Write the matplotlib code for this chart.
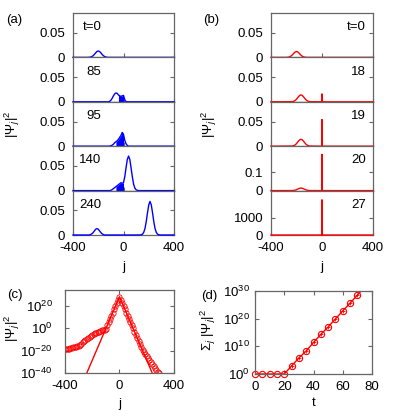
import numpy as np
import matplotlib
matplotlib.use("Agg")
import matplotlib.pyplot as plt
from matplotlib.ticker import FixedLocator, NullLocator

plt.rcParams['font.family'] = ['Liberation Sans', 'DejaVu Sans']
plt.rcParams['mathtext.fontset'] = 'custom'
plt.rcParams['mathtext.rm'] = 'Liberation Sans'
plt.rcParams['mathtext.it'] = 'Liberation Sans:italic'
plt.rcParams['mathtext.sf'] = 'Liberation Sans'
plt.rcParams['axes.unicode_minus'] = False
plt.rcParams['font.size'] = 9.5

# ---- panel (a): |psi_j|^2 snapshots (blue) ----
a_times = ["t=0", "85", "95", "140", "240"]
a_j = [
    [-400, -280, -270, -260, -250, -240, -230, -220, -210, -200, -190, -180, -170, -160, -150, -140, -130, -120, 400],
    [-400, -120, -110, -100, -90, -80, -70, -60, -50, -40, -30, -20, -10, 0, 10, 20, 30, 400],
    [-400, -110, -100, -90, -80, -70, -60, -50, -40, -30, -20, -10, 0, 10, 20, 30, 40, 400],
    [-400, -110, -100, -90, -80, -70, -60, -50, -40, -30, -20, -10, 0, 10, 20, 30, 40, 50, 60, 70, 80, 90, 100, 110, 120, 400],
    [-400, -270, -260, -250, -240, -230, -220, -210, -200, -190, -180, -170, -160, -150,
     130, 140, 150, 160, 170, 180, 190, 200, 210, 220, 230, 240, 250, 260, 270, 280, 290, 400],
]
a_psi = [
    [0, 0, 0.0003, 0.0007, 0.0018, 0.0036, 0.0063, 0.0094, 0.012, 0.013, 0.012, 0.0094, 0.0063, 0.0036, 0.0018, 0.0007, 0.0003, 0, 0],
    [0, 0, 0.001, 0.003, 0.007, 0.012, 0.016, 0.018, 0.017, 0.014, 0.012, 0.011, 0.012, 0.013, 0.004, 0.0005, 0, 0],
    [0, 0, 0.001, 0.002, 0.004, 0.007, 0.009, 0.011, 0.014, 0.018, 0.022, 0.028, 0.024, 0.012, 0.005, 0.0015, 0, 0],
    [0, 0, 0.0005, 0.002, 0.004, 0.006, 0.008, 0.01, 0.012, 0.014, 0.016, 0.015, 0.016, 0.028, 0.046, 0.063, 0.07,
     0.063, 0.046, 0.028, 0.013, 0.005, 0.0017, 0.0005, 0, 0],
    [0, 0, 0.001, 0.0025, 0.005, 0.0085, 0.0118, 0.013, 0.0118, 0.0085, 0.005, 0.0025, 0.001, 0,
     0, 0.0005, 0.0016, 0.0052, 0.013, 0.027, 0.045, 0.061, 0.068, 0.061, 0.045, 0.027, 0.013, 0.0052, 0.0016, 0.0005, 0, 0],
]
# j-range of the rapidly oscillating (filled) part
a_fill = [None, (-40, 0), (-60, 0), (-60, 0), None]

# ---- panel (b): |psi_j|^2 snapshots (red) ----
b_times = ["t=0", "18", "19", "20", "27"]
bump_j = [-235, -225, -215, -205, -195, -185, -175, -165, -155, -145, -135, -125, -115, -105, -95]
bump_v = [0.0003, 0.0008, 0.0019, 0.0039, 0.0068, 0.0102, 0.0129, 0.014, 0.0129, 0.0102, 0.0068, 0.0039, 0.0019, 0.0008, 0.0003]
b_j = [
    [-400, -280, -270, -260, -250, -240, -230, -220, -210, -200, -190, -180, -170, -160, -150, -140, -130, -120, 400],
    [-400] + bump_j + [-1, 0, 1, 400],
    [-400] + bump_j + [-1, 0, 1, 400],
    [-400] + bump_j + [-1, 0, 1, 400],
    [-400, -1, 0, 1, 400],
]
b_psi = [
    [0, 0, 0.0003, 0.0007, 0.0017, 0.0033, 0.0058, 0.0087, 0.011, 0.012, 0.011, 0.0087, 0.0058, 0.0033, 0.0017, 0.0007, 0.0003, 0, 0],
    [0] + bump_v + [0, 0.016, 0, 0],
    [0] + bump_v + [0, 0.054, 0, 0],
    [0] + bump_v + [0, 0.2, 0, 0],
    [0, 0, 2060, 0, 0],
]
b_ylim = [0.09, 0.09, 0.09, 0.245, 2600]
b_ytick = [0.05, 0.05, 0.05, 0.1, 1000]
b_yticklabel = ["0.05", "0.05", "0.05", "0.1", "1000"]

# ---- panel (c): log profile ----
c_line_j = [-300, 0, 300]
c_line_log = [-57, 28, -57]
c_j = list(range(-400, 300, 10))
c_log = [-19, -18.8, -18.5, -18.2, -17.8, -17.4, -17, -16.7, -16.4, -16.2, -16,
         -15.2, -14, -12.8, -11.5, -10.4, -9.5, -8.5, -7.5, -6.7, -6, -5.2, -4.5, -4, -3.5, -3,
         -2.5, -2.1, -1.8, -1.4, -0.5, 2.5, 5.4, 8.2, 11, 13.9, 16.7, 19.5, 22.3, 25.2, 28,
         25.2, 22.3, 19.5, 16.7, 13.9, 11, 8.2, 5.4, 2.5, -0.3, -3.1, -6, -8.8, -11.6, -14.5,
         -17.2, -19.2, -21, -23, -25, -27, -28.8, -30.6, -32.3, -34, -35.6, -37.2, -38.8, -40.3]

# ---- panel (d): total norm vs t ----
d_t = [0, 5, 10, 15, 20, 25, 30, 35, 40, 45, 50, 55, 60, 65, 70]
d_log = [0, 0, 0, 0, 0, 2.9, 5.8, 8.3, 11.4, 14.3, 17.0, 19.9, 22.8, 25.6, 28.5]
d_line_t = d_t + [76]
d_line_log = d_log + [32]

W, H = 397, 416
fig = plt.figure(figsize=(W / 100, H / 100), dpi=100)
frame_col = '#666666'


def style(ax, top=False, ypad=5.5):
    for s in ax.spines.values():
        s.set_color(frame_col)
        s.set_linewidth(0.9)
    ax.tick_params(direction='in', length=3, width=0.8, color=frame_col,
                   top=top, right=True, labelsize=9.5)
    ax.tick_params(axis='x', pad=5)
    ax.tick_params(axis='y', pad=ypad)


def stack(x0, x1, times, js, psis, color, ylims, yticks, ylabels, fills, label_x, label_ha):
    top, bot = 13, 235
    h = (bot - top) / 5
    axes = []
    for i in range(5):
        y_top = top + i * h
        ax = fig.add_axes([x0 / W, 1 - (y_top + h) / H, (x1 - x0) / W, h / H])
        j = np.array(js[i], dtype=float)
        v = np.array(psis[i], dtype=float)
        ax.plot(j, v, color=color, lw=1.0, clip_on=False, zorder=3)
        if fills[i] is not None:
            lo, hi = fills[i]
            m = (j >= lo) & (j <= hi)
            ax.fill_between(j[m], 0, v[m], color=color, lw=0, zorder=3)
        ax.set_xlim(-400, 400)
        ax.set_ylim(0, ylims[i])
        ax.set_xticks([-400, 0, 400])
        ax.set_yticks([0, yticks[i]])
        ax.set_yticklabels(["0", ylabels[i]])
        style(ax)
        if i in (1, 3):
            ax.spines['bottom'].set_color('black')
        if i < 4:
            ax.set_xticklabels([])
        ax.text(label_x, 0.68, times[i], transform=ax.transAxes, ha=label_ha, va='center', fontsize=9.5)
        axes.append(ax)
    axes[-1].set_xlabel("j", labelpad=5)
    return axes


stack(73, 174, a_times, a_j, a_psi, 'blue', [0.09] * 5, [0.05] * 5, ["0.05"] * 5,
      a_fill, 0.28, 'right')
stack(271, 373, b_times, b_j, b_psi, 'red', b_ylim, b_ytick, b_yticklabel,
      [None] * 5, 0.93, 'right')

fig.text(12 / W, 1 - 124 / H, r'$|\Psi_j|^2$', rotation=90, ha='center', va='center', fontsize=9.5)
fig.text(209 / W, 1 - 124 / H, r'$|\Psi_j|^2$', rotation=90, ha='center', va='center', fontsize=9.5)
fig.text(6 / W, 1 - 20 / H, "(a)", ha='left', va='center', fontsize=9.5)
fig.text(203 / W, 1 - 20 / H, "(b)", ha='left', va='center', fontsize=9.5)

# panel (c)
axc = fig.add_axes([65 / W, 1 - 373 / H, (174 - 65) / W, (373 - 290) / H])
axc.plot(c_line_j, 10.0 ** np.array(c_line_log), color='red', lw=1.0)
axc.plot(c_j, 10.0 ** np.array(c_log), ls='none', marker='o', ms=3.8, mfc='none',
         mec='red', mew=0.6)
axc.set_yscale('log')
axc.set_xlim(-400, 400)
axc.set_ylim(1e-40, 1e34)
axc.set_xticks([-400, 0, 400])
axc.yaxis.set_major_locator(FixedLocator([1e-40, 1e-20, 1e0, 1e20]))
axc.yaxis.set_minor_locator(NullLocator())
style(axc, top=True, ypad=9)
axc.set_xlabel("j", labelpad=4)
fig.text(12 / W, 1 - 328 / H, r'$|\Psi_j|^2$', rotation=90, ha='center', va='center', fontsize=9.5)
fig.text(7 / W, 1 - 295 / H, "(c)", ha='left', va='center', fontsize=9.5)

# panel (d)
axd = fig.add_axes([255 / W, 1 - 374 / H, (372 - 255) / W, (374 - 291) / H])
axd.plot(d_line_t, 10.0 ** np.array(d_line_log), color='red', lw=1.0)
axd.plot(d_t, 10.0 ** np.array(d_log), ls='none', marker='o', ms=4.5, mfc='none',
         mec='red', mew=0.8, clip_on=False)
axd.plot(d_t[5:], 10.0 ** np.array(d_log[5:]), ls='none', marker='+', ms=3, mec='red', mew=0.6)
axd.set_yscale('log')
axd.set_xlim(0, 80)
axd.set_ylim(1e0, 1e30)
axd.set_xticks([0, 20, 40, 60, 80])
axd.yaxis.set_major_locator(FixedLocator([1e0, 1e10, 1e20, 1e30]))
axd.yaxis.set_minor_locator(NullLocator())
style(axd, top=True, ypad=4)
axd.set_xlabel("t", labelpad=3)
fig.text(208 / W, 1 - 330 / H, r'$\Sigma_j\ |\Psi_j|^2$', rotation=90, ha='center', va='center', fontsize=9.5)
fig.text(201 / W, 1 - 296 / H, "(d)", ha='left', va='center', fontsize=9.5)

fig.savefig("out.png", dpi=100)
